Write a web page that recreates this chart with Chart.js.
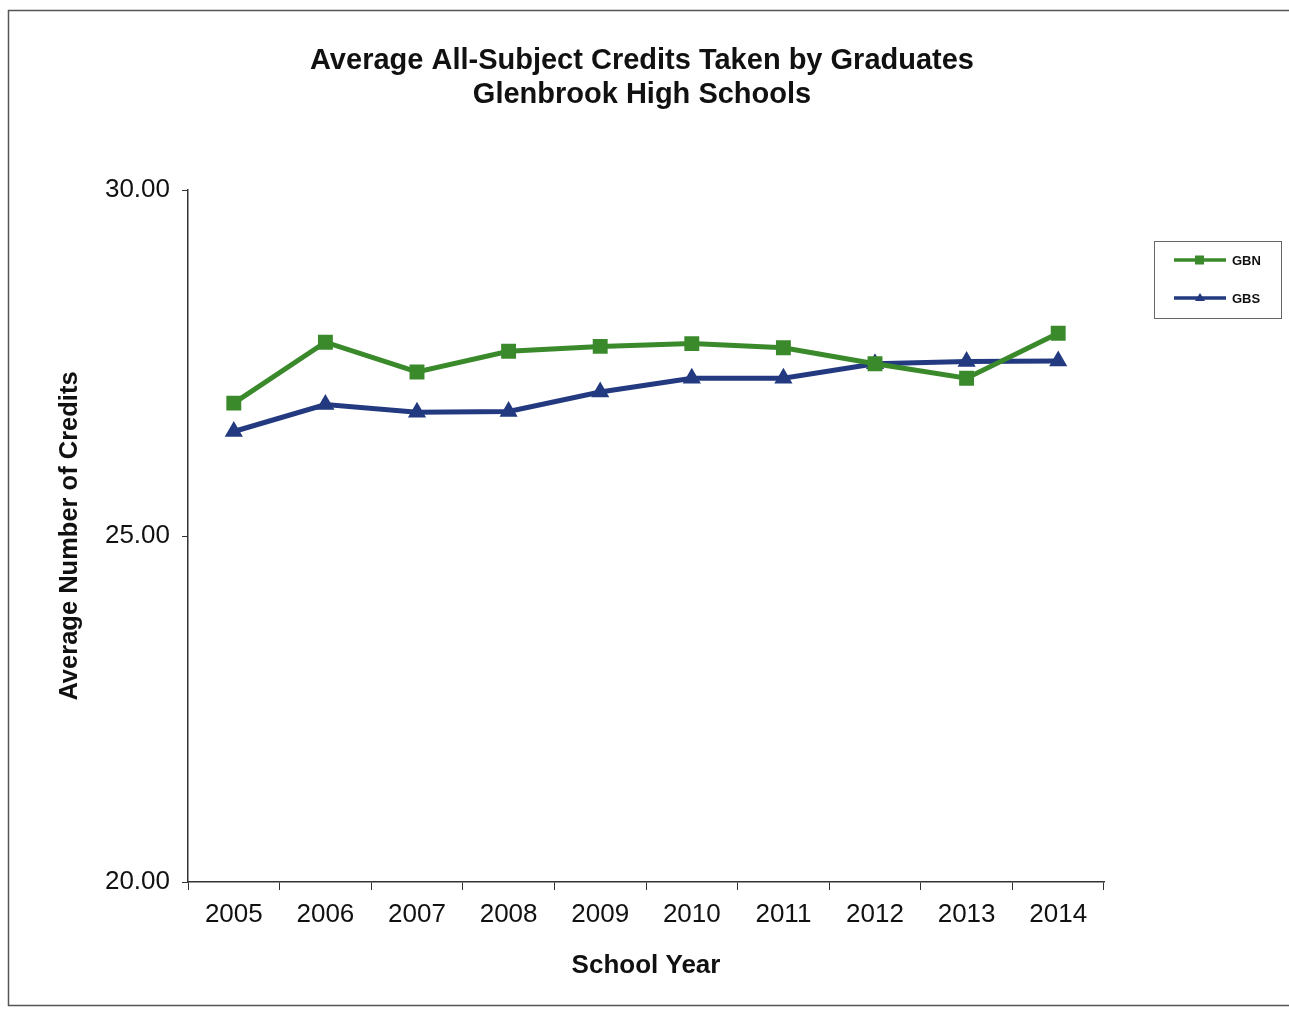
<!DOCTYPE html>
<html lang="en">
<head>
  <meta charset="UTF-8">
  <title>Average All-Subject Credits Taken by Graduates</title>
  <style>
    html, body {
      margin: 0;
      padding: 0;
      background: #fff;
    }
    .chart-wrap {
      position: relative;
      width: 1289px;
      height: 1009px;
    }
  </style>
</head>
<body>
  <div class="chart-wrap">
    <canvas id="creditsChart"></canvas>
  </div>

  <script src="https://cdn.jsdelivr.net/npm/chart.js@4/dist/chart.umd.min.js"></script>
  <script>
    const years = ['2005', '2006', '2007', '2008', '2009', '2010', '2011', '2012', '2013', '2014'];
    const gbn = [26.92, 27.80, 27.37, 27.67, 27.74, 27.78, 27.72, 27.49, 27.28, 27.93];
    const gbs = [26.51, 26.90, 26.79, 26.80, 27.08, 27.28, 27.28, 27.49, 27.52, 27.53];
    const yTicks = [20, 25, 30];
    const titleLines = ['Average All-Subject Credits Taken by Graduates', 'Glenbrook High Schools'];

    const GREEN = '#3a8a2c';
    const BLUE = '#233a80';
    const FONT = "'Liberation Sans', Arial, sans-serif";

    // frame, title (centred on the whole page) and boxed legend on the right
    const decorations = {
      id: 'decorations',
      afterDraw(chart) {
        const ctx = chart.ctx;
        ctx.save();
        ctx.strokeStyle = '#555';
        ctx.lineWidth = 1.5;
        ctx.beginPath();
        ctx.moveTo(1300, 10.5);
        ctx.lineTo(8.5, 10.5);
        ctx.lineTo(8.5, 1005.5);
        ctx.lineTo(1300, 1005.5);
        ctx.stroke();

        ctx.fillStyle = '#111';
        ctx.font = 'bold 29px ' + FONT;
        ctx.textAlign = 'center';
        ctx.textBaseline = 'middle';
        ctx.fillText(titleLines[0], 642, 61);
        ctx.fillText(titleLines[1], 642, 95);

        // legend box
        ctx.strokeStyle = '#666';
        ctx.lineWidth = 1;
        ctx.strokeRect(1154.5, 241.5, 127, 77);

        const items = [
          { label: 'GBN', color: GREEN, style: 'rect', y: 260 },
          { label: 'GBS', color: BLUE, style: 'triangle', y: 298 }
        ];
        items.forEach(it => {
          ctx.strokeStyle = it.color;
          ctx.fillStyle = it.color;
          ctx.lineWidth = 3.5;
          ctx.beginPath();
          ctx.moveTo(1174, it.y);
          ctx.lineTo(1226, it.y);
          ctx.stroke();
          if (it.style === 'rect') {
            ctx.fillRect(1195, it.y - 4.5, 9, 9);
          } else {
            ctx.beginPath();
            ctx.moveTo(1200, it.y - 5);
            ctx.lineTo(1205, it.y + 3);
            ctx.lineTo(1195, it.y + 3);
            ctx.closePath();
            ctx.fill();
          }
          ctx.fillStyle = '#111';
          ctx.font = 'bold 13px ' + FONT;
          ctx.textBaseline = 'middle';
          ctx.textAlign = 'left';
          ctx.fillText(it.label, 1232, it.y + 1);
        });
        ctx.restore();
      }
    };

    new Chart(document.getElementById('creditsChart'), {
      type: 'line',
      data: {
        labels: years,
        datasets: [
          {
            label: 'GBN',
            data: gbn,
            borderColor: GREEN,
            backgroundColor: GREEN,
            borderWidth: 5,
            pointStyle: 'rect',
            pointRadius: 7,
            tension: 0
          },
          {
            label: 'GBS',
            data: gbs,
            borderColor: BLUE,
            backgroundColor: BLUE,
            borderWidth: 5,
            pointStyle: 'triangle',
            pointRadius: 5.5,
            tension: 0
          }
        ]
      },
      options: {
        responsive: true,
        maintainAspectRatio: false,
        animation: false,
        layout: {
          padding: { top: 190, left: 0, right: 185, bottom: 0 }
        },
        plugins: {
          legend: { display: false },
          tooltip: { enabled: false },
          title: { display: false }
        },
        scales: {
          x: {
            offset: true,
            grid: {
              offset: true,
              drawOnChartArea: false,
              drawTicks: true,
              tickLength: 8,
              color: '#333'
            },
            border: { color: '#333', width: 1.5 },
            ticks: {
              color: '#111',
              font: { family: FONT, size: 26 },
              padding: 9,
              maxRotation: 0
            },
            title: {
              display: true,
              text: 'School Year',
              color: '#111',
              font: { family: FONT, size: 26, weight: 'bold', lineHeight: 1.2 },
              padding: { top: 0, bottom: 28 }
            },
            afterFit(scale) {
              scale.height = 1009 - 882;
            }
          },
          y: {
            min: yTicks[0],
            max: yTicks[yTicks.length - 1],
            afterBuildTicks(scale) {
              scale.ticks = yTicks.map(v => ({ value: v }));
            },
            grid: {
              drawOnChartArea: false,
              drawTicks: true,
              tickLength: 6,
              color: '#333'
            },
            border: { color: '#333', width: 1.5 },
            ticks: {
              color: '#111',
              font: { family: FONT, size: 26 },
              padding: 12,
              callback: v => Number(v).toFixed(2)
            },
            title: {
              display: true,
              text: 'Average Number of Credits',
              color: '#111',
              font: { family: FONT, size: 25.5, weight: 'bold', lineHeight: 1.2 },
              padding: { top: 55, bottom: 0 }
            },
            afterFit(scale) {
              scale.width = 188;
            }
          }
        }
      },
      plugins: [decorations]
    });
  </script>
</body>
</html>
